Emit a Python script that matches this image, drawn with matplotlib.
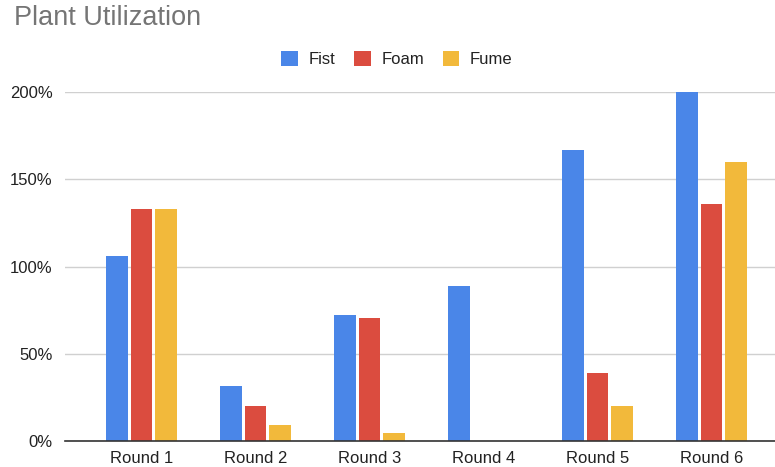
import matplotlib
matplotlib.use("Agg")
import matplotlib.pyplot as plt
from matplotlib.patches import Patch
from matplotlib.ticker import FuncFormatter
import numpy as np

plt.rcParams['font.family'] = ['Liberation Sans', 'DejaVu Sans']

rounds = ["Round 1", "Round 2", "Round 3", "Round 4", "Round 5", "Round 6"]
fist = [106, 31.5, 72.5, 89, 167, 200]
foam = [133, 20, 70.5, 0, 39, 136]
fume = [133, 9.3, 4.6, 0, 20, 160]
series_names = ["Fist", "Foam", "Fume"]
colors = ["#4a86e8", "#db4c3f", "#f2b93b"]
y_ticks = [0, 50, 100, 150, 200]

W, H = 775, 467
fig = plt.figure(figsize=(W / 100, H / 100), dpi=100)
ax = fig.add_axes([65 / W, (H - 441.3) / H, 1 - 65 / W, (441.3 - 92) / H])

x = np.arange(len(rounds))
bar_w = 0.19
step = 0.216
for i, (vals, col) in enumerate(zip([fist, foam, fume], colors)):
    ax.bar(x + (i - 1) * step, vals, width=bar_w, color=col, zorder=3)

ax.set_xlim(-0.671, 5.557)
ax.set_ylim(0, 200)
ax.set_yticks(y_ticks)
ax.yaxis.set_major_formatter(FuncFormatter(lambda v, p: f"{v:.0f}%"))
ax.set_xticks(x)
ax.set_xticklabels(rounds)
ax.tick_params(axis='both', length=0, labelsize=12, colors="#222222")
ax.tick_params(axis='y', pad=9)
ax.tick_params(axis='x', pad=7)
ax.grid(axis='y', color="#d0d0d0", linewidth=1, zorder=0)
for s in ["top", "right", "left"]:
    ax.spines[s].set_visible(False)
ax.spines["bottom"].set_color("#333333")
ax.spines["bottom"].set_linewidth(1.2)
ax.spines["bottom"].set_zorder(4)

fig.text(14 / W, 1 - 18 / H, "Plant Utilization", fontsize=19.5, color="#757575",
         ha="left", va="center")

handles = [Patch(facecolor=c, edgecolor='none', label=n) for n, c in zip(series_names, colors)]
fig.legend(handles=handles, loc="center", bbox_to_anchor=(397 / W, 1 - 59 / H), ncol=3,
           frameon=False, fontsize=12, handlelength=1.0, handleheight=1.0,
           handletextpad=0.65, columnspacing=1.1, labelcolor="#222222")

fig.savefig("out.png", dpi=100, facecolor="white")
